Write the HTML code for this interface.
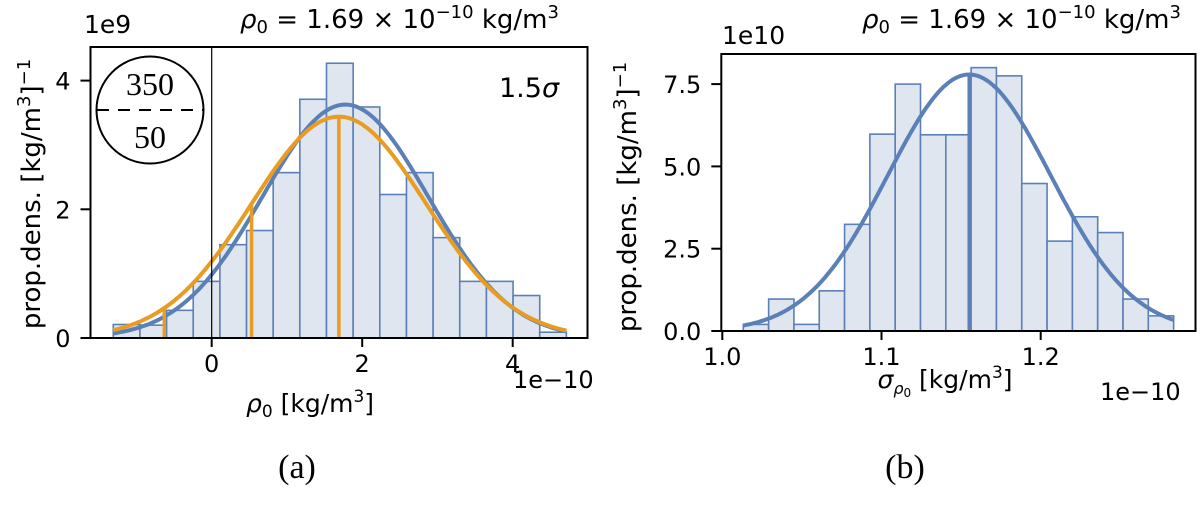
<!DOCTYPE html>
<html><head><meta charset="utf-8"><style>
body{margin:0;background:#fff;width:1200px;height:510px;overflow:hidden}
svg{font-family:"DejaVu Sans","Liberation Sans",sans-serif}
</style></head><body>
<svg id="fig" width="1200" height="510">
<g id="A"></g>
<g id="B"></g>
</svg>
<script>
const NS="http://www.w3.org/2000/svg";
// Panel (a) data
const aBinStart=-1.308, aBinWidth=0.3542;
const aCounts=[0.21,0.20,0.43,0.88,1.45,1.67,2.57,3.71,4.27,3.59,2.23,2.57,1.56,0.88,0.88,0.66,0.09];
const aBlueMean=1.776, aBlueSigma=1.10;
const aOrangeMean=1.69, aOrangeSigma=1.16;
const aXTicks=[0,2,4], aYTicks=[0,2,4];
// Panel (b) data
const bBinStart=1.0132, bBinWidth=0.0159;
const bCounts=[0.2,0.97,0.2,1.22,3.24,5.98,7.5,5.96,5.96,8.0,7.75,4.48,2.73,3.47,2.99,0.97,0.46];
const bMean=1.1551, bSigma=0.0512;
const bXTicks=[1.0,1.1,1.2], bYTicks=[0,2.5,5.0,7.5];

function el(p,t,a,txt){const e=document.createElementNS(NS,t);for(const k in a)e.setAttribute(k,a[k]);if(txt!==undefined)e.textContent=txt;p.appendChild(e);return e;}
const gauss=(x,m,s)=>Math.exp(-0.5*((x-m)/s)**2)/(s*Math.sqrt(2*Math.PI));

function panel(g,o){
  const X=v=>o.x0+(v-o.xv0)*o.kx, Y=v=>o.yb-v*o.ky;
  o.counts.forEach((c,i)=>{
    const x1=X(o.bs+i*o.bw),x2=X(o.bs+(i+1)*o.bw);
    const r=el(g,'rect',{x:x1,y:Y(c),width:x2-x1,height:Y(0)-Y(c),fill:'#dfe6f0',stroke:'#5b80b8','stroke-width':1.6});
    
    
  });
  const lo=o.bs, hi=o.bs+o.counts.length*o.bw;
  o.curves.forEach(cv=>{
    let d='';for(let i=0;i<=200;i++){const x=lo+(hi-lo)*i/200;d+=(i?'L':'M')+X(x).toFixed(1)+','+Y(gauss(x,cv.m,cv.s)*cv.k).toFixed(1);}
    const p=el(g,'path',{d,fill:'none',stroke:cv.c,'stroke-width':4});
    
    
    cv.vlines.forEach(n=>{const x=cv.m-n*cv.s;const l=el(g,'line',{x1:X(x),x2:X(x),y1:Y(0),y2:Y(gauss(x,cv.m,cv.s)*cv.k),stroke:cv.c,'stroke-width':3.5});
      
      });
  });
  if(o.zeroLine){const z=el(g,'line',{x1:X(0),x2:X(0),y1:o.yt,y2:o.yb,stroke:'#000','stroke-width':1.2});
    
    }
  const f=el(g,'rect',{x:o.x0f,y:o.yt,width:o.x1f-o.x0f,height:o.yb-o.yt,fill:'none',stroke:'#000','stroke-width':2});
  
  
  o.xt.forEach(v=>{el(g,'line',{x1:X(v),x2:X(v),y1:o.yb,y2:o.yb+9,stroke:'#000','stroke-width':2});
    const t=el(g,'text',{x:X(v),y:o.yb+34,'font-size':24,'text-anchor':'middle'},o.fmtx(v));
    
    });
  o.yt2.forEach(v=>{el(g,'line',{x1:o.x0f-10,x2:o.x0f,y1:Y(v),y2:Y(v),stroke:'#000','stroke-width':2});
    const t=el(g,'text',{x:o.x0f-20,y:Y(v)+9,'font-size':24,'text-anchor':'end'},o.fmty(v));
    
    });
}
panel(document.getElementById('A'),{x0:211.7,xv0:0,kx:75.25,yb:338,ky:64.35,yt:47,x0f:90.5,x1f:587.5,
  bs:aBinStart,bw:aBinWidth,counts:aCounts,zeroLine:true,xt:aXTicks,yt2:aYTicks,fmtx:v=>String(v),fmty:v=>String(v),
  curves:[{m:aBlueMean,s:aBlueSigma,k:10,c:'#5b80b8',name:'fit-curve-blue',vlines:[]},
          {m:aOrangeMean,s:aOrangeSigma,k:10,c:'#e89c22',name:'fit-curve-orange',vlines:[0,1,2]}]});
panel(document.getElementById('B'),{x0:722.3,xv0:1.0,kx:1592,yb:331,ky:32.92,yt:54,x0f:721.3,x1f:1195.5,
  bs:bBinStart,bw:bBinWidth,counts:bCounts,zeroLine:false,xt:bXTicks,yt2:bYTicks,fmtx:v=>v.toFixed(1),fmty:v=>v.toFixed(1),
  curves:[{m:bMean,s:bSigma,k:1,c:'#5b80b8',name:'fit-curve',vlines:[0]}]});
</script>
<svg style="position:absolute;left:0;top:0" width="1200" height="510" font-family="DejaVu Sans, Liberation Sans, sans-serif">
 <g>
  <ellipse cx="150" cy="110" rx="53.5" ry="53.5" fill="#fff" stroke="#000" stroke-width="2"/>
  <line x1="97" x2="204" y1="110" y2="110" stroke="#000" stroke-width="2" stroke-dasharray="12,9"/>
  <text x="150" y="95" font-family="Liberation Serif, serif" font-size="32" text-anchor="middle">350</text>
  <text x="150" y="148" font-family="Liberation Serif, serif" font-size="32" text-anchor="middle">50</text>
 </g>
 <text x="499" y="97" font-size="27">1.5<tspan font-style="italic">σ</tspan></text>
 <text x="84" y="33" font-size="25">1e9</text>
 <text x="240" y="28" font-size="26"><tspan font-style="italic">ρ</tspan><tspan font-size="18" dy="5">0</tspan><tspan dy="-5"> = 1.69 × 10</tspan><tspan font-size="18" dy="-10">−10</tspan><tspan dy="10"> kg/m</tspan><tspan font-size="18" dy="-10">3</tspan></text>
 <text x="722" y="44" font-size="25">1e10</text>
 <text x="862" y="28" font-size="26"><tspan font-style="italic">ρ</tspan><tspan font-size="18" dy="5">0</tspan><tspan dy="-5"> = 1.69 × 10</tspan><tspan font-size="18" dy="-10">−10</tspan><tspan dy="10"> kg/m</tspan><tspan font-size="18" dy="-10">3</tspan></text>
 <text x="513" y="388" font-size="24">1e−10</text>
 <text x="1100" y="400" font-size="24">1e−10</text>
 <text x="310" y="412" font-size="25" text-anchor="middle"><tspan font-style="italic">ρ</tspan><tspan font-size="17" dy="5">0</tspan><tspan dy="-5"> [kg/m</tspan><tspan font-size="17" dy="-10">3</tspan><tspan dy="10">]</tspan></text>
 <text x="945" y="388" font-size="25" text-anchor="middle"><tspan font-style="italic">σ</tspan><tspan font-size="16" dy="6" font-style="italic">ρ</tspan><tspan font-size="12" dy="3">0</tspan><tspan dy="-9"> [kg/m</tspan><tspan font-size="17" dy="-10">3</tspan><tspan dy="10">]</tspan></text>
 <text transform="translate(40,194) rotate(-90)" font-size="26" text-anchor="middle">prop.dens. [kg/m<tspan font-size="18" dy="-10">3</tspan><tspan dy="10">]</tspan><tspan font-size="18" dy="-10">−1</tspan></text>
 <text transform="translate(636,197) rotate(-90)" font-size="26" text-anchor="middle">prop.dens. [kg/m<tspan font-size="18" dy="-10">3</tspan><tspan dy="10">]</tspan><tspan font-size="18" dy="-10">−1</tspan></text>
 <text x="297" y="478" font-family="Liberation Serif, serif" font-size="34" text-anchor="middle">(a)</text>
 <text x="905" y="478" font-family="Liberation Serif, serif" font-size="34" text-anchor="middle">(b)</text>
</svg>
</body></html>
